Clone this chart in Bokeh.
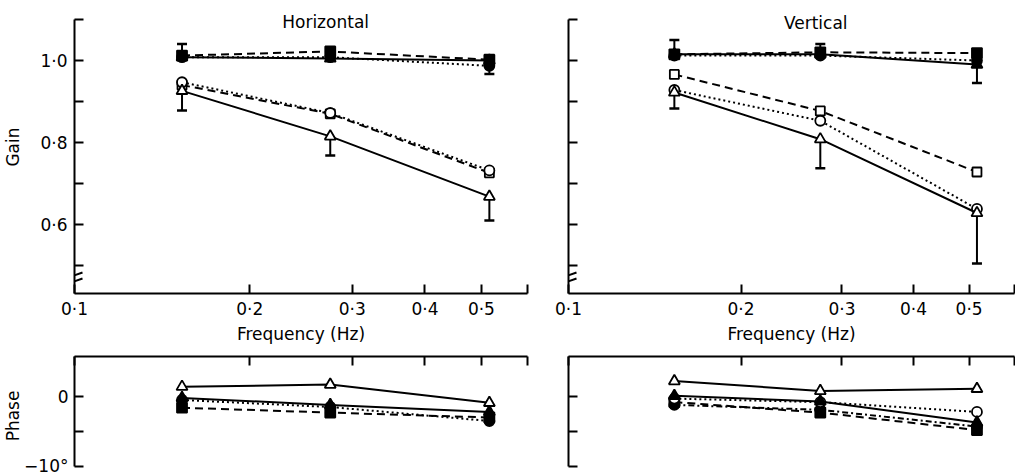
from bokeh.plotting import figure
from bokeh.layouts import row, column
from bokeh.models import Range1d, FixedTicker, Arrow
from bokeh.core.properties import value
from bokeh.embed import file_html
from bokeh.resources import INLINE

# ---------------- data ----------------
freq = [0.153, 0.275, 0.516]
x_ticks = [0.1, 0.2, 0.3, 0.4, 0.5, 0.6]
x_tick_labels = ["0·1", "0·2", "0·3", "0·4", "0·5", ""]
gain_ticks = [0.5, 0.6, 0.7, 0.8, 0.9, 1.0, 1.1]
gain_tick_labels = ["", "0·6", "", "0·8", "", "1·0", ""]
phase_ticks = [-10, -5, 0]
phase_tick_labels = ["−10°", "", "0"]

# Horizontal gain
h_gain_filled_tri = [1.008, 1.005, 1.000]
h_gain_filled_sq = [1.012, 1.022, 1.002]
h_gain_filled_circ = [1.008, 1.008, 0.987]
h_gain_open_circ = [0.947, 0.872, 0.732]
h_gain_open_sq = [0.940, 0.870, 0.726]
h_gain_open_tri = [0.926, 0.815, 0.668]
h_err_freq = [0.153, 0.516, 0.153, 0.275, 0.516]
h_err_from = [1.008, 0.987, 0.926, 0.815, 0.668]
h_err_to = [1.040, 0.967, 0.878, 0.768, 0.610]

# Vertical gain
v_gain_filled_tri = [1.015, 1.015, 0.990]
v_gain_filled_sq = [1.015, 1.020, 1.018]
v_gain_filled_circ = [1.012, 1.012, 1.000]
v_gain_open_sq = [0.966, 0.877, 0.728]
v_gain_open_circ = [0.928, 0.853, 0.638]
v_gain_open_tri = [0.922, 0.808, 0.628]
v_err_freq = [0.153, 0.275, 0.516, 0.153, 0.275, 0.516]
v_err_from = [1.015, 1.015, 0.990, 0.922, 0.808, 0.628]
v_err_to = [1.050, 1.040, 0.945, 0.883, 0.737, 0.505]

# Horizontal phase (deg)
h_ph_open_tri = [1.4, 1.7, -0.9]
h_ph_filled_tri = [-0.2, -1.2, -2.2]
h_ph_filled_circ = [-0.5, -1.5, -3.5]
h_ph_filled_sq = [-1.6, -2.3, -3.0]

# Vertical phase (deg)
v_ph_open_tri = [2.2, 0.8, 1.1]
v_ph_filled_tri = [0.1, -0.7, -3.7]
v_ph_open_circ = [-0.3, -0.8, -2.2]
v_ph_filled_circ = [-1.2, -1.9, -4.3]
v_ph_filled_sq = [-0.8, -2.3, -4.8]

FONT = "DejaVu Sans"
FS = "17px"

# gain scale: 1.0 at 60px from top, 410 px per unit, frame 293 px tall
G_TOP = 1.0 + 60 / 410
G_BOT = 1.0 - (293 - 60) / 410
P_TOP = 40 / 7
P_BOT = -79 / 7


def style_axis(ax, ticks, labels):
    ax.ticker = FixedTicker(ticks=ticks, minor_ticks=[])
    ax.major_label_overrides = {t: l for t, l in zip(ticks, labels)}
    ax.axis_line_width = 2
    ax.axis_line_color = "black"
    ax.major_tick_line_width = 2
    ax.major_tick_line_color = "black"
    ax.major_tick_in = 9
    ax.major_tick_out = 0
    ax.minor_tick_line_color = None
    ax.major_label_text_font = FONT
    ax.major_label_text_font_size = FS
    ax.major_label_text_color = "black"
    ax.axis_label_text_font = FONT
    ax.axis_label_text_font_size = FS
    ax.axis_label_text_font_style = "normal"
    ax.axis_label_text_color = "black"


def base_fig(fw, fh, left, right, top, bottom, yr, xloc="below"):
    p = figure(x_axis_type="log", x_range=Range1d(0.1, 0.6), y_range=yr,
               frame_width=fw, frame_height=fh,
               min_border_left=left, min_border_right=right,
               min_border_top=top, min_border_bottom=bottom,
               x_axis_location=xloc,
               output_backend="svg", toolbar_location=None)
    p.outline_line_color = None
    p.xgrid.visible = False
    p.ygrid.visible = False
    p.background_fill_color = "white"
    p.border_fill_color = "white"
    return p


def series(p, ys, marker, filled, dash, size=11):
    p.line(freq, ys, line_color="black", line_width=2, line_dash=dash)
    p.scatter(freq, ys, marker=marker, size=size,
              fill_color="black" if filled else "white",
              line_color="black", line_width=1.8)


def errbars(p, xf, y0, y1):
    p.segment(x0=xf, y0=y0, x1=xf, y1=y1, line_color="black", line_width=2)
    p.scatter(xf, y1, marker="dash", size=10, line_color="black", line_width=2.5)


def gain_break(p, frame_w):
    ppd = frame_w / 0.77815  # pixels per decade
    def gx(dx):
        return 0.1 * 10 ** (dx / ppd)
    def gy(py):
        return 1.0 - (py - 60) / 410
    for yc in (275, 281):
        p.add_layout(Arrow(end=None, x_start=gx(-9), y_start=gy(yc + 3),
                           x_end=gx(8), y_end=gy(yc - 3),
                           line_color="black", line_width=2))


# ---------------- Horizontal gain ----------------
gH = base_fig(453, 293, 70, 17, 0, 52, Range1d(G_BOT, G_TOP))
style_axis(gH.xaxis[0], x_ticks, x_tick_labels)
style_axis(gH.yaxis[0], gain_ticks, gain_tick_labels)
gH.xaxis.axis_label = "Frequency (Hz)"
gH.xaxis.major_label_standoff = 5
gH.xaxis.axis_label_standoff = 2
gH.yaxis.axis_label = "Gain"
gH.yaxis.major_label_standoff = 7
gH.yaxis.axis_label_standoff = 14
gH.yaxis.bounds = (G_BOT, 1.1005)
errbars(gH, h_err_freq, h_err_from, h_err_to)
series(gH, h_gain_filled_sq, "square", True, "8 5", 10)
series(gH, h_gain_filled_circ, "circle", True, "2 3", 10)
series(gH, h_gain_filled_tri, "triangle", True, "solid")
series(gH, h_gain_open_sq, "square", False, "8 5", 9)
series(gH, h_gain_open_circ, "circle", False, "2 3", 10)
series(gH, h_gain_open_tri, "triangle", False, "solid")
gH.text(x=[0.27], y=[1.0 + (60 - 21) / 410], text=["Horizontal"],
        text_font=value(FONT), text_font_size=FS, text_align="center",
        text_baseline="alphabetic", text_color="black")
gain_break(gH, 453)

# ---------------- Vertical gain ----------------
gV = base_fig(446, 293, 24, 5, 0, 52, Range1d(G_BOT, G_TOP))
style_axis(gV.xaxis[0], x_ticks, x_tick_labels)
style_axis(gV.yaxis[0], gain_ticks, [""] * len(gain_ticks))
gV.yaxis.major_label_text_font_size = "0px"
gV.yaxis.major_label_standoff = 0
gV.xaxis.axis_label = "Frequency (Hz)"
gV.xaxis.major_label_standoff = 5
gV.xaxis.axis_label_standoff = 2
gV.yaxis.bounds = (G_BOT, 1.1005)
errbars(gV, v_err_freq, v_err_from, v_err_to)
series(gV, v_gain_filled_sq, "square", True, "8 5", 10)
series(gV, v_gain_filled_circ, "circle", True, "2 3", 10)
series(gV, v_gain_filled_tri, "triangle", True, "solid")
series(gV, v_gain_open_sq, "square", False, "8 5", 9)
series(gV, v_gain_open_circ, "circle", False, "2 3", 10)
series(gV, v_gain_open_tri, "triangle", False, "solid")
gV.text(x=[0.27], y=[1.0 + (60 - 22) / 410], text=["Vertical"],
        text_font=value(FONT), text_font_size=FS, text_align="center",
        text_baseline="alphabetic", text_color="black")
gain_break(gV, 446)

# ---------------- Horizontal phase ----------------
pH = base_fig(453, 119, 70, 17, 10, 0, Range1d(P_BOT, P_TOP), xloc="above")
style_axis(pH.xaxis[0], x_ticks, [""] * len(x_ticks))
pH.xaxis.major_label_text_font_size = "0px"
pH.xaxis.major_label_standoff = 0
style_axis(pH.yaxis[0], phase_ticks, phase_tick_labels)
pH.yaxis.axis_label = "Phase"
pH.yaxis.major_label_standoff = 6
pH.yaxis.axis_label_standoff = -2
pH.yaxis.bounds = (-10.01, P_TOP)
series(pH, h_ph_filled_sq, "square", True, "8 5", 10)
series(pH, h_ph_filled_circ, "circle", True, "2 3", 10)
series(pH, h_ph_filled_tri, "triangle", True, "solid")
series(pH, h_ph_open_tri, "triangle", False, "solid")

# ---------------- Vertical phase ----------------
pV = base_fig(446, 119, 24, 5, 10, 0, Range1d(P_BOT, P_TOP), xloc="above")
style_axis(pV.xaxis[0], x_ticks, [""] * len(x_ticks))
pV.xaxis.major_label_text_font_size = "0px"
pV.xaxis.major_label_standoff = 0
style_axis(pV.yaxis[0], phase_ticks, [""] * len(phase_ticks))
pV.yaxis.major_label_text_font_size = "0px"
pV.yaxis.major_label_standoff = 0
pV.yaxis.bounds = (-10.01, P_TOP)
series(pV, v_ph_filled_sq, "square", True, "8 5", 10)
series(pV, v_ph_filled_circ, "circle", True, "6 3 2 3", 10)
series(pV, v_ph_open_circ, "circle", False, "2 3", 10)
series(pV, v_ph_filled_tri, "triangle", True, "solid")
series(pV, v_ph_open_tri, "triangle", False, "solid")

layout = column(row(gH, gV), row(pH, pV))
open("out.html", "w").write(file_html(layout, INLINE))
